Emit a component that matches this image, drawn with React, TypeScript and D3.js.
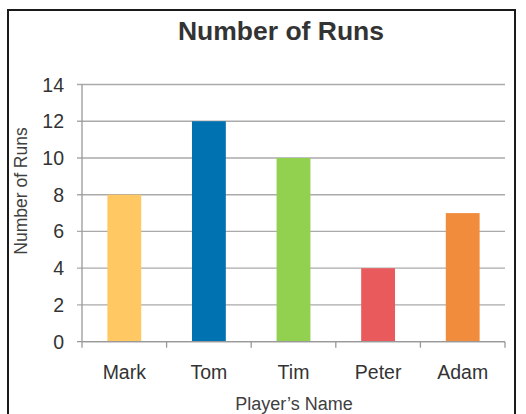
import React from "react";
import * as d3 from "d3";

const categories = ["Mark", "Tom", "Tim", "Peter", "Adam"];
const runs = [8, 12, 10, 4, 7];
const barColors = ["#FFC862", "#0072B2", "#92D050", "#E85A5C", "#F08C3C"];
const yTicks = [0, 2, 4, 6, 8, 10, 12, 14];

const W = 526;
const H = 414;
const left = 82;
const right = 505;
const top = 84.5;
const bottom = 341.7;

export default function App() {
  const x = d3.scaleBand<string>().domain(categories).range([left, right]).padding(0);
  const y = d3.scaleLinear().domain([0, 14]).range([bottom, top]);
  const bw = x.bandwidth() * 0.4;
  const font = "'Liberation Sans', Arial, sans-serif";
  return (
    <svg width={W} height={H} style={{ position: "absolute", left: 0, top: 0, background: "#fff" }} fontFamily={font}>
      <rect x={8} y={10} width={507} height={420} fill="#fff" stroke="#1a1a1a" strokeWidth={2} />
      <text x={281} y={40} textAnchor="middle" fontSize={26.5} fontWeight="bold" fill="#333">
        Number of Runs
      </text>
      {yTicks.map((t) => (
        <g key={t}>
          <line x1={left - 5} x2={right} y1={y(t)} y2={y(t)} stroke={t === 0 ? "#999" : "#aaa"} strokeWidth={1.3} />
          <text x={64} y={y(t) + 7} textAnchor="end" fontSize={19.5} fill="#333">
            {t}
          </text>
        </g>
      ))}
      <line x1={left} x2={left} y1={top} y2={bottom} stroke="#999" strokeWidth={1.3} />
      {categories.map((c, i) => (
        <rect
          key={c}
          x={(x(c) as number) + (x.bandwidth() - bw) / 2}
          y={y(runs[i])}
          width={bw}
          height={bottom - y(runs[i])}
          fill={barColors[i]}
        />
      ))}
      <line x1={left} x2={right} y1={bottom} y2={bottom} stroke="#999" strokeWidth={1.3} />
      {[...categories.map((c) => x(c) as number), right].map((v, i) => (
        <line key={i} x1={v} x2={v} y1={bottom} y2={bottom + 6} stroke="#999" strokeWidth={1.3} />
      ))}
      {categories.map((c) => (
        <text key={c} x={(x(c) as number) + x.bandwidth() / 2} y={379} textAnchor="middle" fontSize={19.5} fill="#333">
          {c}
        </text>
      ))}
      <text x={294} y={410} textAnchor="middle" fontSize={18} fill="#404040">
        Player’s Name
      </text>
      <text transform={`translate(27,191) rotate(-90)`} textAnchor="middle" fontSize={17.5} fill="#404040">
        Number of Runs
      </text>
    </svg>
  );
}
